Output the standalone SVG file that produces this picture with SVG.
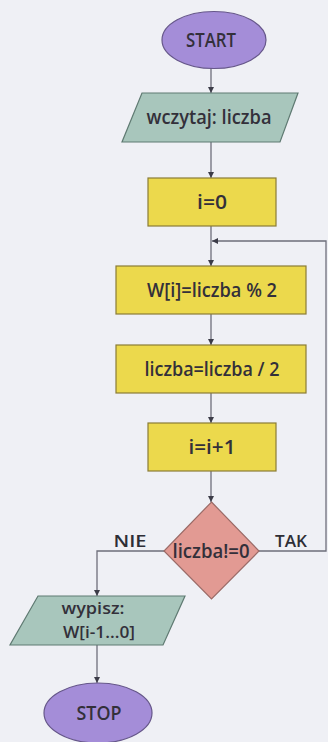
<svg xmlns="http://www.w3.org/2000/svg" width="328" height="742" viewBox="0 0 328 742">
  <defs>
    <marker id="arr" viewBox="0 0 10 10" refX="10" refY="5" markerWidth="6" markerHeight="6" orient="auto" markerUnits="userSpaceOnUse">
      <path d="M0,0 L10,5 L0,10 z" fill="#3c3c48"/>
    </marker>
    <style>
      .term { fill: #a48dd8; stroke: #66578a; stroke-width: 1.2; }
      .io { fill: #a8c6bc; stroke: #5f7a72; stroke-width: 1.2; }
      .proc { fill: #ecd94c; stroke: #8a7c36; stroke-width: 1.2; }
      .dec { fill: #e29a93; stroke: #9a6a66; stroke-width: 1.2; }
      .conn { fill: none; stroke: #6e6e7a; stroke-width: 1.3; }
      text { font-family: "Open Sans", "Liberation Sans", Arial, sans-serif; font-weight: 600; font-size: 19px; fill: #33303a; text-anchor: middle; }
      .lbl { font-size: 17px; fill: #2e2e36; }
      .sm { font-size: 17px; }
    </style>
  </defs>
  <rect x="0" y="0" width="328" height="742" fill="#eff0f5"/>

  <g id="connectors">
    <line class="conn" x1="211" y1="68" x2="211" y2="93" marker-end="url(#arr)"/>
    <line class="conn" x1="211" y1="142" x2="211" y2="178" marker-end="url(#arr)"/>
    <line class="conn" x1="211" y1="226" x2="211" y2="266" marker-end="url(#arr)"/>
    <line class="conn" x1="211" y1="314" x2="211" y2="345" marker-end="url(#arr)"/>
    <line class="conn" x1="211" y1="393" x2="211" y2="423" marker-end="url(#arr)"/>
    <line class="conn" x1="211" y1="471" x2="211" y2="502" marker-end="url(#arr)"/>
    <polyline class="conn" points="259,551 326,551 326,241 212,241" marker-end="url(#arr)"/>
    <polyline class="conn" points="164,551 97,551 97,596" marker-end="url(#arr)"/>
    <line class="conn" x1="97" y1="645" x2="97" y2="683" marker-end="url(#arr)"/>
    <text class="lbl" x="130" y="547" textLength="33" lengthAdjust="spacingAndGlyphs">NIE</text>
    <text class="lbl" x="291" y="547" textLength="32" lengthAdjust="spacingAndGlyphs">TAK</text>
  </g>

  <g id="start">
    <ellipse class="term" cx="214" cy="40" rx="52" ry="28.5"/>
    <text x="211" y="47" textLength="50" lengthAdjust="spacingAndGlyphs">START</text>
  </g>

  <g id="input">
    <polygon class="io" points="142,93 298,93 280,142 122,142"/>
    <text x="209" y="124" textLength="125" lengthAdjust="spacingAndGlyphs">wczytaj: liczba</text>
  </g>

  <g id="init">
    <rect class="proc" x="148" y="178" width="128" height="48"/>
    <text x="212" y="209" textLength="30" lengthAdjust="spacingAndGlyphs">i=0</text>
  </g>

  <g id="mod">
    <rect class="proc" x="116" y="266" width="190" height="48"/>
    <text x="212" y="297" textLength="130" lengthAdjust="spacingAndGlyphs">W[i]=liczba % 2</text>
  </g>

  <g id="div">
    <rect class="proc" x="116" y="345" width="190" height="48"/>
    <text x="212" y="376" textLength="135" lengthAdjust="spacingAndGlyphs">liczba=liczba / 2</text>
  </g>

  <g id="inc">
    <rect class="proc" x="148" y="423" width="128" height="48"/>
    <text x="212" y="454" textLength="47" lengthAdjust="spacingAndGlyphs">i=i+1</text>
  </g>

  <g id="cond">
    <polygon class="dec" points="211.5,502 259,551 211.5,599 164,551"/>
    <text x="211" y="558" textLength="77" lengthAdjust="spacingAndGlyphs">liczba!=0</text>
  </g>

  <g id="output">
    <polygon class="io" points="38,596 185,596 163,645 10,645"/>
    <text class="sm" x="93" y="614" textLength="63" lengthAdjust="spacingAndGlyphs">wypisz:</text>
    <text class="sm" x="99" y="638" textLength="72" lengthAdjust="spacingAndGlyphs">W[i-1...0]</text>
  </g>

  <g id="stop">
    <ellipse class="term" cx="98" cy="713" rx="54" ry="30"/>
    <text x="99" y="720" textLength="45" lengthAdjust="spacingAndGlyphs">STOP</text>
  </g>
</svg>
